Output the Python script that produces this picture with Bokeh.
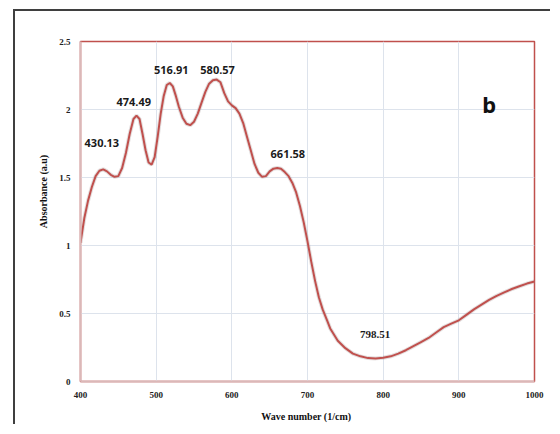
from bokeh.plotting import figure
from bokeh.models import Label, ColumnDataSource, FixedTicker
from bokeh.embed import file_html
from bokeh.resources import INLINE

# ---- data ----
wavenumber = [400, 405, 410, 415, 420, 425, 430, 435, 440, 445, 450, 455, 460, 465, 470,
              474, 478, 482, 486, 490, 494, 498, 502, 506, 510, 514, 518, 522, 526, 530,
              535, 540, 545, 550, 555, 560, 565, 570, 575, 580, 585, 590, 595, 600, 605,
              610, 615, 620, 625, 630, 635, 640, 645, 650, 655, 660, 665, 670, 675, 680,
              685, 690, 695, 700, 705, 710, 715, 720, 726, 730, 740, 750, 760, 770, 780,
              790, 800, 810, 820, 830, 840, 850, 860, 870, 880, 890, 900, 910, 920, 930,
              940, 950, 960, 970, 980, 990, 1000]
absorbance = [1.02, 1.20, 1.33, 1.43, 1.51, 1.55, 1.56, 1.545, 1.52, 1.505, 1.51, 1.57, 1.68, 1.82, 1.93,
              1.955, 1.93, 1.82, 1.70, 1.61, 1.595, 1.65, 1.80, 1.97, 2.10, 2.18, 2.195, 2.17, 2.10, 2.02,
              1.94, 1.895, 1.885, 1.91, 1.97, 2.05, 2.13, 2.19, 2.215, 2.22, 2.20, 2.12, 2.06, 2.03, 2.01,
              1.97, 1.90, 1.80, 1.70, 1.60, 1.535, 1.505, 1.51, 1.545, 1.565, 1.57, 1.565, 1.54, 1.51, 1.46,
              1.39, 1.29, 1.17, 1.03, 0.88, 0.74, 0.62, 0.53, 0.447, 0.39, 0.30, 0.245, 0.205, 0.185, 0.172,
              0.17, 0.175, 0.185, 0.205, 0.23, 0.26, 0.29, 0.32, 0.36, 0.40, 0.425, 0.45, 0.49, 0.53, 0.565,
              0.60, 0.63, 0.655, 0.68, 0.70, 0.72, 0.735]

peak_labels = ["430.13", "474.49", "516.91", "580.57", "661.58"]
peak_label_x = [428.2, 470.4, 520.0, 581.2, 674.0]
peak_label_y = [1.752, 2.057, 2.29, 2.29, 1.674]
min_label = "798.51"
min_label_x = 789.3
min_label_y = 0.343
panel_tag = "b"
panel_tag_x = 940
panel_tag_y = 2.04

x_ticks = [400, 500, 600, 700, 800, 900, 1000]
y_ticks = [0, 0.5, 1, 1.5, 2, 2.5]

RED = "#c0504d"

p = figure(width=537, height=415, x_range=(400, 1000), y_range=(0, 2.5),
           output_backend="svg", toolbar_location=None,
           min_border_left=65, min_border_right=18, min_border_top=30, min_border_bottom=45,
           background_fill_color="white", border_fill_color="white")
p.styles = {"margin-left": "13px", "margin-top": "9px",
            "border-top": "2px solid #3f3f3f", "border-left": "2px solid #3f3f3f"}

p.outline_line_color = RED
p.outline_line_width = 1.5

for ax in (p.xaxis[0], p.yaxis[0]):
    ax.major_tick_line_color = None
    ax.minor_tick_line_color = None
    ax.axis_line_color = "#dbb8b8"
    ax.axis_line_width = 2
    ax.major_label_text_font = "Liberation Serif"
    ax.major_label_text_font_style = "bold"
    ax.major_label_text_font_size = "9px"
    ax.major_label_text_color = "#222222"
    ax.axis_label_text_font = "Liberation Serif"
    ax.axis_label_text_font_style = "bold"
    ax.axis_label_text_font_size = "10px"
    ax.axis_label_text_color = "#111111"

p.xaxis.major_label_standoff = 4
p.yaxis.major_label_standoff = 4
p.xaxis.ticker = FixedTicker(ticks=x_ticks)
p.yaxis.ticker = FixedTicker(ticks=y_ticks)
p.yaxis.major_label_overrides = {0: "0", 0.5: "0.5", 1: "1", 1.5: "1.5", 2: "2", 2.5: "2.5"}

p.xaxis.axis_label = "Wave number  (1/cm)"
p.xaxis.axis_label_standoff = 10

# leading no-break spaces shift the centred title up along the axis, as in the reference
p.yaxis.axis_label = "\u00a0" * 16 + "Absorbance (a.u)"
p.yaxis.axis_label_standoff = 7

p.xgrid.grid_line_color = "#dde3ec"
p.ygrid.grid_line_color = "#dde3ec"
p.xgrid.grid_line_width = 1
p.ygrid.grid_line_width = 1

src = ColumnDataSource(dict(x=wavenumber, y=absorbance))
p.line("x", "y", source=src, line_color="#b0a0a0", line_width=4, line_alpha=0.35)
p.line("x", "y", source=src, line_color=RED, line_width=2)

for t, lx, ly in zip(peak_labels, peak_label_x, peak_label_y):
    p.add_layout(Label(x=lx, y=ly, text=t, text_align="center", text_baseline="middle",
                       text_font="Noto Sans", text_font_style="bold", text_font_size="11px",
                       text_color="#1a1a1a"))

p.add_layout(Label(x=min_label_x, y=min_label_y, text=min_label, text_align="center",
                   text_baseline="middle", text_font="Liberation Serif", text_font_style="bold",
                   text_font_size="11px", text_color="#1a1a1a"))

p.add_layout(Label(x=panel_tag_x, y=panel_tag_y, text=panel_tag, text_align="center",
                   text_baseline="alphabetic", text_font="Noto Sans", text_font_style="bold",
                   text_font_size="22px", text_color="#111111"))

open("out.html", "w").write(file_html(p, INLINE))
